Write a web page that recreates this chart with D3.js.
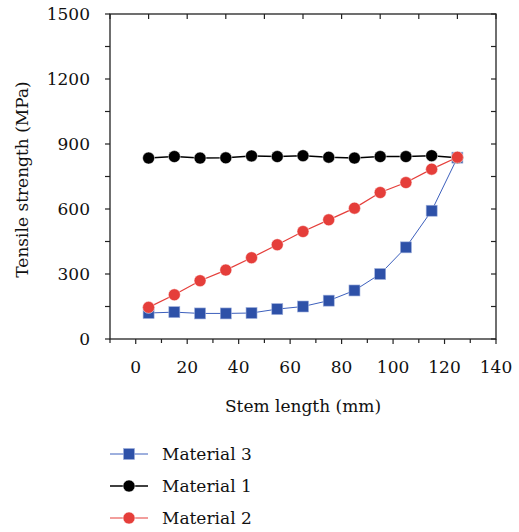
<!DOCTYPE html>
<html>
<head>
<meta charset="utf-8">
<script src="https://cdn.jsdelivr.net/npm/d3@7"></script>
<style>
  html, body { margin: 0; padding: 0; background: #fff; overflow: hidden; }
  svg { display: block; overflow: visible; }
</style>
</head>
<body>
<div id="chart"></div>
<script>
// Stem length (mm) for every sample
const stemLength = [5, 15, 25, 35, 45, 55, 65, 75, 85, 95, 105, 115, 125];
// Tensile strength (MPa)
const material3 = [120, 124, 118, 118, 120, 138, 150, 177, 224, 300, 423, 592, 837];
const material1 = [835, 842, 835, 836, 845, 842, 846, 839, 835, 842, 842, 846, 837];
const material2 = [146, 204, 269, 318, 375, 435, 496, 550, 604, 676, 722, 784, 839];
const xTicks = [0, 20, 40, 60, 80, 100, 120, 140];
const yTicks = [0, 300, 600, 900, 1200, 1500];

const series = [
  { name: "Material 3", values: material3, color: "#2e51a8", line: "#3d60bd", shape: "square", width: 1 },
  { name: "Material 1", values: material1, color: "#000000", line: "#000000", shape: "circle", width: 1.5 },
  { name: "Material 2", values: material2, color: "#e53e3a", line: "#e53e3a", shape: "circle", width: 1.2 }
];

const width = 519, height = 532;
const margin = { top: 14, right: 23, bottom: 193, left: 110 };
const innerWidth = width - margin.left - margin.right;
const innerHeight = height - margin.top - margin.bottom;
const font = "DejaVu Serif";

const svg = d3.select("#chart").append("svg")
  .attr("width", width)
  .attr("height", height)
  .style("font-family", font);
const g = svg.append("g")
  .attr("transform", `translate(${margin.left},${margin.top})`);

const x = d3.scaleLinear().domain([-10, 140]).range([0, innerWidth]);
const y = d3.scaleLinear().domain([0, 1500]).range([innerHeight, 0]);

const axisColor = "#222";

// frame
g.append("rect")
  .attr("width", innerWidth).attr("height", innerHeight)
  .attr("fill", "none").attr("stroke", axisColor).attr("stroke-width", 1.3);

// bottom axis: major labelled, minor outward ticks
const xMinor = d3.range(-10, 141, 10);
g.append("g").selectAll("line").data(xMinor).join("line")
  .attr("x1", d => x(d)).attr("x2", d => x(d))
  .attr("y1", innerHeight).attr("y2", d => innerHeight + (d % 20 === 0 ? 5 : 4))
  .attr("stroke", axisColor).attr("stroke-width", 1.2);
g.append("g").selectAll("text").data(xTicks).join("text")
  .attr("x", d => x(d)).attr("y", innerHeight + 34)
  .attr("text-anchor", "middle").attr("font-size", 17).attr("fill", "#111")
  .text(d => d);

// top axis: inward ticks
g.append("g").selectAll("line").data(d3.range(-10, 141, 15)).join("line")
  .attr("x1", d => x(d)).attr("x2", d => x(d))
  .attr("y1", 0).attr("y2", 5)
  .attr("stroke", axisColor).attr("stroke-width", 1.2);

// left axis: outward ticks; right axis: inward ticks
const yMinor = d3.range(0, 1501, 150);
g.append("g").selectAll("line").data(yMinor).join("line")
  .attr("x1", -5).attr("x2", 0)
  .attr("y1", d => y(d)).attr("y2", d => y(d))
  .attr("stroke", axisColor).attr("stroke-width", 1.2);
g.append("g").selectAll("line").data(yMinor).join("line")
  .attr("x1", innerWidth - 5).attr("x2", innerWidth)
  .attr("y1", d => y(d)).attr("y2", d => y(d))
  .attr("stroke", axisColor).attr("stroke-width", 1.2);
g.append("g").selectAll("text").data(yTicks).join("text")
  .attr("x", -20).attr("y", d => y(d)).attr("dy", "0.35em")
  .attr("text-anchor", "end").attr("font-size", 17).attr("fill", "#111")
  .text(d => d);

// axis titles
g.append("text")
  .attr("x", x(65)).attr("y", innerHeight + 73)
  .attr("text-anchor", "middle").attr("font-size", 17).attr("fill", "#111")
  .text("Stem length (mm)");
g.append("text")
  .attr("transform", `translate(${-82},${innerHeight / 2 + 3}) rotate(-90)`)
  .attr("text-anchor", "middle").attr("font-size", 17).attr("fill", "#111")
  .text("Tensile strength (MPa)");

// lines and markers
const line = d3.line()
  .x((d, i) => x(stemLength[i]))
  .y(d => y(d));

function drawMarker(sel, s, cx, cy) {
  if (s.shape === "square") {
    sel.append("rect")
      .attr("x", cx - 5.5).attr("y", cy - 5.5)
      .attr("width", 11).attr("height", 11)
      .attr("fill", s.color).attr("stroke", "#9fb0dc").attr("stroke-width", 0.6);
  } else {
    sel.append("circle")
      .attr("cx", cx).attr("cy", cy).attr("r", 6)
      .attr("fill", s.color).attr("stroke", "#fff").attr("stroke-width", 0.5);
  }
}

series.forEach(s => {
  const sg = g.append("g");
  sg.append("path")
    .datum(s.values)
    .attr("fill", "none")
    .attr("stroke", s.line)
    .attr("stroke-width", s.width)
    .attr("d", line);
  s.values.forEach((v, i) => drawMarker(sg, s, x(stemLength[i]), y(v)));
});

// legend
const legend = svg.append("g").attr("transform", "translate(110,454)");
series.forEach((s, i) => {
  const row = legend.append("g").attr("transform", `translate(0,${i * 32})`);
  row.append("line")
    .attr("x1", 0).attr("x2", 38)
    .attr("stroke", s.line).attr("stroke-width", s.width);
  drawMarker(row, s, 19, 0);
  row.append("text")
    .attr("x", 52).attr("dy", "0.35em")
    .attr("font-size", 17).attr("fill", "#111")
    .text(s.name);
});
</script>
</body>
</html>
